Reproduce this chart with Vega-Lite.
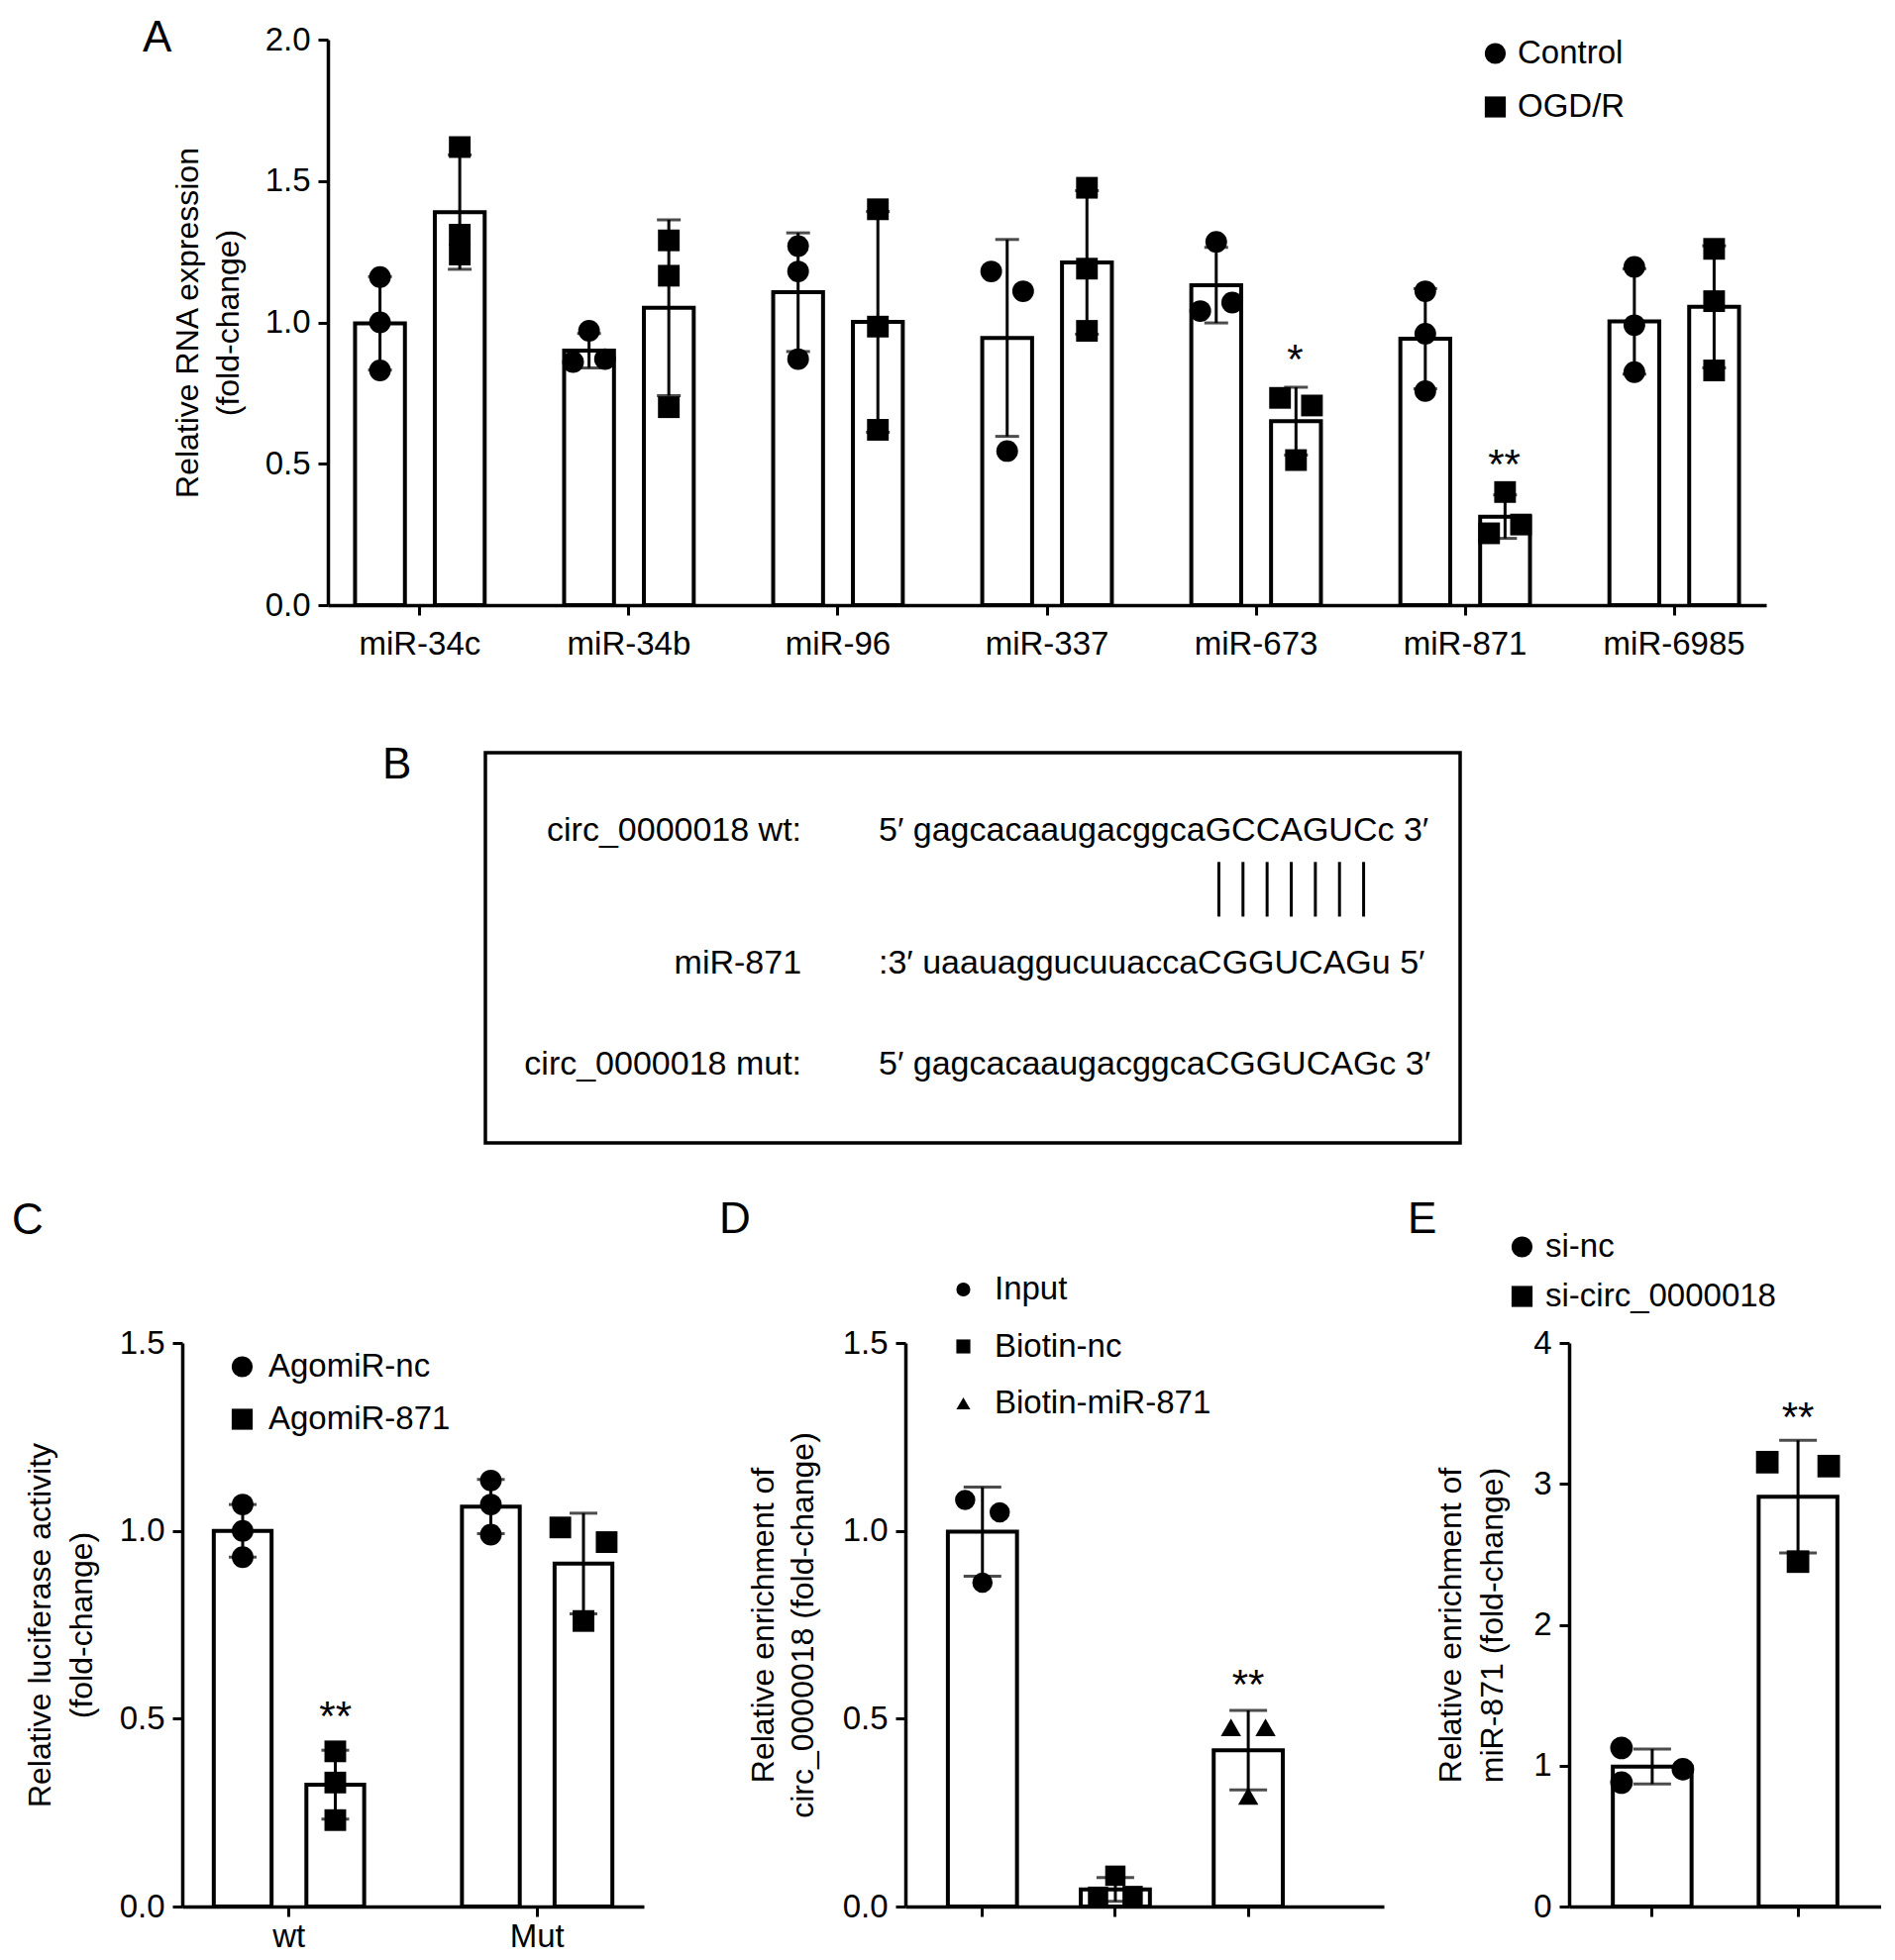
{
  "$schema": "https://vega.github.io/schema/vega-lite/v6.json",
  "padding": {"left": 0, "top": 16, "right": 0, "bottom": 0},
  "config": {
    "font": "Liberation Sans",
    "view": {"stroke": null},
    "axis": {"domainColor": "black", "domainWidth": 3.5, "tickColor": "black", "tickWidth": 3, "tickSize": 10, "labelColor": "black", "labelFontSize": 33, "titleColor": "black", "titleFontSize": 32, "titleFontWeight": "normal", "grid": false, "labelFont": "Liberation Sans", "titleFont": "Liberation Sans"},
    "legend": {"labelFontSize": 33, "labelColor": "black", "labelFont": "Liberation Sans", "padding": 0, "symbolFillColor": "black", "symbolStrokeWidth": 0, "labelLimit": 500},
    "title": {"font": "Liberation Sans", "fontSize": 44, "fontWeight": "normal", "color": "black", "anchor": "start", "frame": "group", "offset": 0, "baseline": "middle", "align": "left"},
    "text": {"font": "Liberation Sans", "color": "black"}
  },
  "datasets": {
    "a": [
      {"mir": "miR-34c", "group": "Control", "slot": "Control M", "value": 1.16},
      {"mir": "miR-34c", "group": "Control", "slot": "Control M", "value": 1.0},
      {"mir": "miR-34c", "group": "Control", "slot": "Control M", "value": 0.83},
      {"mir": "miR-34c", "group": "OGD/R", "slot": "OGD/R M", "value": 1.62},
      {"mir": "miR-34c", "group": "OGD/R", "slot": "OGD/R M", "value": 1.31},
      {"mir": "miR-34c", "group": "OGD/R", "slot": "OGD/R M", "value": 1.24},
      {"mir": "miR-34b", "group": "Control", "slot": "Control M", "value": 0.97},
      {"mir": "miR-34b", "group": "Control", "slot": "Control L", "value": 0.86},
      {"mir": "miR-34b", "group": "Control", "slot": "Control R", "value": 0.87},
      {"mir": "miR-34b", "group": "OGD/R", "slot": "OGD/R M", "value": 1.29},
      {"mir": "miR-34b", "group": "OGD/R", "slot": "OGD/R M", "value": 1.165},
      {"mir": "miR-34b", "group": "OGD/R", "slot": "OGD/R M", "value": 0.70},
      {"mir": "miR-96", "group": "Control", "slot": "Control M", "value": 1.27},
      {"mir": "miR-96", "group": "Control", "slot": "Control M", "value": 1.18},
      {"mir": "miR-96", "group": "Control", "slot": "Control M", "value": 0.87},
      {"mir": "miR-96", "group": "OGD/R", "slot": "OGD/R M", "value": 1.40},
      {"mir": "miR-96", "group": "OGD/R", "slot": "OGD/R M", "value": 0.985},
      {"mir": "miR-96", "group": "OGD/R", "slot": "OGD/R M", "value": 0.62},
      {"mir": "miR-337", "group": "Control", "slot": "Control L", "value": 1.18},
      {"mir": "miR-337", "group": "Control", "slot": "Control R", "value": 1.11},
      {"mir": "miR-337", "group": "Control", "slot": "Control M", "value": 0.545},
      {"mir": "miR-337", "group": "OGD/R", "slot": "OGD/R M", "value": 1.476},
      {"mir": "miR-337", "group": "OGD/R", "slot": "OGD/R M", "value": 1.19},
      {"mir": "miR-337", "group": "OGD/R", "slot": "OGD/R M", "value": 0.97},
      {"mir": "miR-673", "group": "Control", "slot": "Control M", "value": 1.285},
      {"mir": "miR-673", "group": "Control", "slot": "Control L", "value": 1.04},
      {"mir": "miR-673", "group": "Control", "slot": "Control R", "value": 1.07},
      {"mir": "miR-673", "group": "OGD/R", "slot": "OGD/R L", "value": 0.733},
      {"mir": "miR-673", "group": "OGD/R", "slot": "OGD/R R", "value": 0.706},
      {"mir": "miR-673", "group": "OGD/R", "slot": "OGD/R M", "value": 0.513},
      {"mir": "miR-871", "group": "Control", "slot": "Control M", "value": 1.11},
      {"mir": "miR-871", "group": "Control", "slot": "Control M", "value": 0.96},
      {"mir": "miR-871", "group": "Control", "slot": "Control M", "value": 0.757},
      {"mir": "miR-871", "group": "OGD/R", "slot": "OGD/R M", "value": 0.40},
      {"mir": "miR-871", "group": "OGD/R", "slot": "OGD/R L", "value": 0.254},
      {"mir": "miR-871", "group": "OGD/R", "slot": "OGD/R R", "value": 0.285},
      {"mir": "miR-6985", "group": "Control", "slot": "Control M", "value": 1.196},
      {"mir": "miR-6985", "group": "Control", "slot": "Control M", "value": 0.99},
      {"mir": "miR-6985", "group": "Control", "slot": "Control M", "value": 0.824},
      {"mir": "miR-6985", "group": "OGD/R", "slot": "OGD/R M", "value": 1.26},
      {"mir": "miR-6985", "group": "OGD/R", "slot": "OGD/R M", "value": 1.075},
      {"mir": "miR-6985", "group": "OGD/R", "slot": "OGD/R M", "value": 0.83}
    ],
    "astar": [
      {"mir": "miR-673", "group": "OGD/R", "label": "*", "ypos": 0.882},
      {"mir": "miR-871", "group": "OGD/R", "label": "**", "ypos": 0.513}
    ],
    "b": [
      {"name": "circ_0000018 wt:", "seq": "5′ gagcacaaugacggcaGCCAGUCc 3′", "row": 1.0},
      {"name": "miR-871", "seq": ":3′ uaauaggucuuaccaCGGUCAGu 5′", "row": 2.7},
      {"name": "circ_0000018 mut:", "seq": "5′ gagcacaaugacggcaCGGUCAGc 3′", "row": 4.0}
    ],
    "bpairs": [
      {"pair": "G-C", "nt": 17}, {"pair": "C-G", "nt": 18}, {"pair": "C-G", "nt": 19},
      {"pair": "A-U", "nt": 20}, {"pair": "G-C", "nt": 21}, {"pair": "U-A", "nt": 22}, {"pair": "C-G", "nt": 23}
    ],
    "c": [
      {"site": "wt", "group": "AgomiR-nc", "slot": "AgomiR-nc M", "value": 1.07},
      {"site": "wt", "group": "AgomiR-nc", "slot": "AgomiR-nc M", "value": 1.0},
      {"site": "wt", "group": "AgomiR-nc", "slot": "AgomiR-nc M", "value": 0.93},
      {"site": "wt", "group": "AgomiR-871", "slot": "AgomiR-871 M", "value": 0.413},
      {"site": "wt", "group": "AgomiR-871", "slot": "AgomiR-871 M", "value": 0.33},
      {"site": "wt", "group": "AgomiR-871", "slot": "AgomiR-871 M", "value": 0.23},
      {"site": "Mut", "group": "AgomiR-nc", "slot": "AgomiR-nc M", "value": 1.134},
      {"site": "Mut", "group": "AgomiR-nc", "slot": "AgomiR-nc M", "value": 1.07},
      {"site": "Mut", "group": "AgomiR-nc", "slot": "AgomiR-nc M", "value": 0.99},
      {"site": "Mut", "group": "AgomiR-871", "slot": "AgomiR-871 L", "value": 1.009},
      {"site": "Mut", "group": "AgomiR-871", "slot": "AgomiR-871 R", "value": 0.97},
      {"site": "Mut", "group": "AgomiR-871", "slot": "AgomiR-871 M", "value": 0.76}
    ],
    "cstar": [{"site": "wt", "group": "AgomiR-871", "label": "**", "ypos": 0.518}],
    "d": [
      {"grp": "Input", "lane": "L", "value": 1.082},
      {"grp": "Input", "lane": "R", "value": 1.049},
      {"grp": "Input", "lane": "M", "value": 0.862},
      {"grp": "Biotin-nc", "lane": "M", "value": 0.082},
      {"grp": "Biotin-nc", "lane": "L", "value": 0.026},
      {"grp": "Biotin-nc", "lane": "R", "value": 0.028},
      {"grp": "Biotin-miR-871", "lane": "L", "value": 0.477},
      {"grp": "Biotin-miR-871", "lane": "R", "value": 0.477},
      {"grp": "Biotin-miR-871", "lane": "M", "value": 0.294}
    ],
    "dstar": [{"grp": "Biotin-miR-871", "label": "**", "ypos": 0.60}],
    "e": [
      {"grp": "si-nc", "lane": "L", "value": 1.126},
      {"grp": "si-nc", "lane": "R", "value": 0.975},
      {"grp": "si-nc", "lane": "L", "value": 0.88},
      {"grp": "si-circ_0000018", "lane": "L", "value": 3.154},
      {"grp": "si-circ_0000018", "lane": "R", "value": 3.126},
      {"grp": "si-circ_0000018", "lane": "M", "value": 2.448}
    ],
    "estar": [{"grp": "si-circ_0000018", "label": "**", "ypos": 3.50}],
    "spacer": [{"s": 0}]
  },
  "spacing": 82,
  "resolve": {"scale": {"shape": "independent"}, "legend": {"shape": "independent"}},
  "vconcat": [
    {
      "resolve": {"scale": {"shape": "independent"}, "legend": {"shape": "independent"}},
      "hconcat": [
        {"width": 331, "height": 1, "data": {"name": "spacer"}, "mark": {"type": "point", "opacity": 0}, "encoding": {}},
        {
          "width": 1452, "height": 571,
          "title": {"text": "A", "dx": -187, "dy": 40.5},
          "resolve": {"scale": {"xOffset": "independent"}},
          "layer": [
            {
              "data": {"name": "a"},
              "mark": {"type": "bar", "fill": "white", "stroke": "black", "strokeWidth": 4},
              "encoding": {
                "x": {"field": "mir", "type": "nominal", "scale": {"domain": ["miR-34c", "miR-34b", "miR-96", "miR-337", "miR-673", "miR-871", "miR-6985"], "paddingInner": 0.38, "paddingOuter": 0.13}, "axis": {"labelAngle": 0, "labelPadding": 13}, "title": null},
                "xOffset": {"field": "group", "type": "nominal", "scale": {"domain": ["Control", "OGD/R"], "paddingInner": 0.375, "paddingOuter": 0}},
                "y": {"aggregate": "mean", "field": "value", "type": "quantitative", "scale": {"domain": [0, 2], "nice": false}, "axis": {"values": [0, 0.5, 1, 1.5, 2], "format": ".1f", "labelPadding": 8, "titleX": -142, "titleY": 285.5, "titleAngle": 270, "titleBaseline": "middle", "titleAlign": "center", "titleLineHeight": 41}, "title": ["Relative RNA expression", "(fold-change)"]}
              }
            },
            {
              "data": {"name": "a"},
              "mark": {"type": "errorbar", "extent": "stdev", "ticks": true, "size": 24, "thickness": 3, "color": "black"},
              "encoding": {
                "x": {"field": "mir", "type": "nominal", "scale": {"domain": ["miR-34c", "miR-34b", "miR-96", "miR-337", "miR-673", "miR-871", "miR-6985"], "paddingInner": 0.38, "paddingOuter": 0.13}, "axis": {"labelAngle": 0, "labelPadding": 13}, "title": null},
                "xOffset": {"field": "group", "type": "nominal", "scale": {"domain": ["Control", "OGD/R"], "paddingInner": 0.375, "paddingOuter": 0}},
                "y": {"field": "value", "type": "quantitative", "scale": {"domain": [0, 2], "nice": false}, "title": ["Relative RNA expression", "(fold-change)"]}
              }
            },
            {
              "data": {"name": "a"},
              "mark": {"type": "point", "filled": true, "color": "black", "opacity": 1, "size": 480},
              "encoding": {
                "x": {"field": "mir", "type": "nominal", "scale": {"domain": ["miR-34c", "miR-34b", "miR-96", "miR-337", "miR-673", "miR-871", "miR-6985"], "paddingInner": 0.38, "paddingOuter": 0.13}, "axis": {"labelAngle": 0, "labelPadding": 13}, "title": null},
                "xOffset": {"field": "slot", "type": "nominal", "scale": {"type": "point", "domain": ["Control L", "Control M", "Control R", "gap1", "gap2", "OGD/R L", "OGD/R M", "OGD/R R"], "padding": 0.5625}},
                "y": {"field": "value", "type": "quantitative", "scale": {"domain": [0, 2], "nice": false}, "title": ["Relative RNA expression", "(fold-change)"]},
                "shape": {"field": "group", "type": "nominal", "scale": {"domain": ["Control", "OGD/R"], "range": ["circle", "square"]}, "legend": {"title": null, "orient": "none", "legendX": 1162, "legendY": -2.5, "rowPadding": 20, "labelOffset": 6, "symbolSize": 450}}
              }
            },
            {
              "data": {"name": "astar"},
              "mark": {"type": "text", "fontSize": 42, "baseline": "middle", "align": "center", "dy": 5, "dx": -26},
              "encoding": {
                "x": {"field": "mir", "type": "nominal", "scale": {"domain": ["miR-34c", "miR-34b", "miR-96", "miR-337", "miR-673", "miR-871", "miR-6985"], "paddingInner": 0.38, "paddingOuter": 0.13}, "axis": {"labelAngle": 0, "labelPadding": 13}, "title": null},
                "xOffset": {"field": "group", "type": "nominal", "scale": {"domain": ["Control", "OGD/R"], "paddingInner": 0.375, "paddingOuter": 0}},
                "y": {"field": "ypos", "type": "quantitative", "scale": {"domain": [0, 2], "nice": false}, "title": ["Relative RNA expression", "(fold-change)"]},
                "text": {"field": "label"}
              }
            }
          ]
        }
      ],
      "spacing": 0,
      "bounds": "flush"
    },
    {
      "spacing": 54,
      "resolve": {"scale": {"shape": "independent"}, "legend": {"shape": "independent"}},
      "vconcat": [
        {
          "hconcat": [
            {"width": 490, "height": 1, "data": {"name": "spacer"}, "mark": {"type": "point", "opacity": 0}, "encoding": {}},
            {
              "width": 984, "height": 394,
              "view": {"stroke": "black", "strokeWidth": 3.5},
              "title": {"text": "B", "dx": -104, "dy": 39},
              "layer": [
                {
                  "data": {"name": "b"},
                  "mark": {"type": "text", "align": "right", "baseline": "middle", "fontSize": 34},
                  "encoding": {
                    "x": {"datum": -0.3, "type": "quantitative", "scale": {"domain": [-13.4, 27], "nice": false, "zero": false}, "axis": null},
                    "y": {"field": "row", "type": "quantitative", "scale": {"domain": [0, 5], "nice": false, "zero": false, "reverse": true}, "axis": null},
                    "text": {"field": "name"}
                  }
                },
                {
                  "data": {"name": "b"},
                  "mark": {"type": "text", "align": "left", "baseline": "middle", "fontSize": 34},
                  "encoding": {
                    "x": {"datum": 2.9, "type": "quantitative", "scale": {"domain": [-13.4, 27], "nice": false, "zero": false}, "axis": null},
                    "y": {"field": "row", "type": "quantitative", "scale": {"domain": [0, 5], "nice": false, "zero": false, "reverse": true}, "axis": null},
                    "text": {"field": "seq"}
                  }
                },
                {
                  "data": {"name": "bpairs"},
                  "mark": {"type": "rule", "strokeWidth": 3, "color": "black"},
                  "encoding": {
                    "x": {"field": "nt", "type": "quantitative", "scale": {"domain": [-13.4, 27], "nice": false, "zero": false}, "axis": null},
                    "y": {"datum": 1.4, "type": "quantitative", "scale": {"domain": [0, 5], "nice": false, "zero": false, "reverse": true}, "axis": null},
                    "y2": {"datum": 2.1}
                  }
                }
              ]
            }
          ],
          "spacing": 0,
          "bounds": "flush"
        },
        {
          "resolve": {"scale": {"shape": "independent"}, "legend": {"shape": "independent"}},
          "hconcat": [
            {"width": 184, "height": 1, "data": {"name": "spacer"}, "mark": {"type": "point", "opacity": 0}, "encoding": {}},
            {
              "width": 466, "height": 569,
              "title": {"text": "C", "dx": -172, "dy": -81.5},
              "resolve": {"scale": {"xOffset": "independent"}},
              "layer": [
                {
                  "data": {"name": "c"},
                  "mark": {"type": "bar", "fill": "white", "stroke": "black", "strokeWidth": 4},
                  "encoding": {
                    "x": {"field": "site", "type": "nominal", "scale": {"domain": ["wt", "Mut"], "paddingInner": 0.394, "paddingOuter": 0.127}, "axis": {"labelAngle": 0, "labelPadding": 4}, "title": null},
                    "xOffset": {"field": "group", "type": "nominal", "scale": {"domain": ["AgomiR-nc", "AgomiR-871"], "paddingInner": 0.376, "paddingOuter": 0}},
                    "y": {"aggregate": "mean", "field": "value", "type": "quantitative", "scale": {"domain": [0, 1.5], "nice": false}, "axis": {"values": [0, 0.5, 1, 1.5], "format": ".1f", "labelPadding": 8, "titleX": -144, "titleY": 284.5, "titleAngle": 270, "titleBaseline": "middle", "titleAlign": "center", "titleLineHeight": 42}, "title": ["Relative luciferase activity", "(fold-change)"]}
                  }
                },
                {
                  "data": {"name": "c"},
                  "mark": {"type": "errorbar", "extent": "stdev", "ticks": true, "size": 28, "thickness": 3, "color": "black"},
                  "encoding": {
                    "x": {"field": "site", "type": "nominal", "scale": {"domain": ["wt", "Mut"], "paddingInner": 0.394, "paddingOuter": 0.127}, "axis": {"labelAngle": 0, "labelPadding": 4}, "title": null},
                    "xOffset": {"field": "group", "type": "nominal", "scale": {"domain": ["AgomiR-nc", "AgomiR-871"], "paddingInner": 0.376, "paddingOuter": 0}},
                    "y": {"field": "value", "type": "quantitative", "scale": {"domain": [0, 1.5], "nice": false}, "title": ["Relative luciferase activity", "(fold-change)"]}
                  }
                },
                {
                  "data": {"name": "c"},
                  "mark": {"type": "point", "filled": true, "color": "black", "opacity": 1, "size": 480},
                  "encoding": {
                    "x": {"field": "site", "type": "nominal", "scale": {"domain": ["wt", "Mut"], "paddingInner": 0.394, "paddingOuter": 0.127}, "axis": {"labelAngle": 0, "labelPadding": 4}, "title": null},
                    "xOffset": {"field": "slot", "type": "nominal", "scale": {"type": "point", "domain": ["AgomiR-nc L", "AgomiR-nc M", "AgomiR-nc R", "gap", "AgomiR-871 L", "AgomiR-871 M", "AgomiR-871 R"], "padding": 0.247}},
                    "y": {"field": "value", "type": "quantitative", "scale": {"domain": [0, 1.5], "nice": false}, "title": ["Relative luciferase activity", "(fold-change)"]},
                    "shape": {"field": "group", "type": "nominal", "scale": {"domain": ["AgomiR-nc", "AgomiR-871"], "range": ["circle", "square"]}, "legend": {"title": null, "orient": "none", "legendX": 44, "legendY": 7.5, "rowPadding": 19, "labelOffset": 10, "symbolSize": 450}}
                  }
                },
                {
                  "data": {"name": "cstar"},
                  "mark": {"type": "text", "fontSize": 42, "baseline": "middle", "align": "center", "dy": 5, "dx": -29},
                  "encoding": {
                    "x": {"field": "site", "type": "nominal", "scale": {"domain": ["wt", "Mut"], "paddingInner": 0.394, "paddingOuter": 0.127}, "axis": {"labelAngle": 0, "labelPadding": 4}, "title": null},
                    "xOffset": {"field": "group", "type": "nominal", "scale": {"domain": ["AgomiR-nc", "AgomiR-871"], "paddingInner": 0.376, "paddingOuter": 0}},
                    "y": {"field": "ypos", "type": "quantitative", "scale": {"domain": [0, 1.5], "nice": false}, "title": ["Relative luciferase activity", "(fold-change)"]},
                    "text": {"field": "label"}
                  }
                }
              ]
            },
            {"width": 264, "height": 1, "data": {"name": "spacer"}, "mark": {"type": "point", "opacity": 0}, "encoding": {}},
            {
              "width": 483, "height": 569,
              "title": {"text": "D", "dx": -188, "dy": -27.5},
              "resolve": {"scale": {"xOffset": "independent"}},
              "layer": [
                {
                  "data": {"name": "d"},
                  "mark": {"type": "bar", "fill": "white", "stroke": "black", "strokeWidth": 4},
                  "encoding": {
                    "x": {"field": "grp", "type": "nominal", "scale": {"domain": ["Input", "Biotin-nc", "Biotin-miR-871"], "paddingInner": 0.48, "paddingOuter": 0.54, "align": 0.296}, "axis": {"labels": false}, "title": null},
                    "y": {"aggregate": "mean", "field": "value", "type": "quantitative", "scale": {"domain": [0, 1.5], "nice": false}, "axis": {"values": [0, 0.5, 1, 1.5], "format": ".1f", "labelPadding": 8, "titleX": -144, "titleY": 284.5, "titleAngle": 270, "titleBaseline": "middle", "titleAlign": "center", "titleLineHeight": 40}, "title": ["Relative enrichment of", "circ_0000018 (fold-change)"]}
                  }
                },
                {
                  "data": {"name": "d"},
                  "mark": {"type": "errorbar", "extent": "stdev", "ticks": true, "size": 38, "thickness": 3, "color": "black"},
                  "encoding": {
                    "x": {"field": "grp", "type": "nominal", "scale": {"domain": ["Input", "Biotin-nc", "Biotin-miR-871"], "paddingInner": 0.48, "paddingOuter": 0.54, "align": 0.296}, "axis": {"labels": false}, "title": null},
                    "y": {"field": "value", "type": "quantitative", "scale": {"domain": [0, 1.5], "nice": false}, "title": ["Relative enrichment of", "circ_0000018 (fold-change)"]}
                  }
                },
                {
                  "data": {"name": "d"},
                  "mark": {"type": "point", "filled": true, "color": "black", "opacity": 1, "size": 420},
                  "encoding": {
                    "x": {"field": "grp", "type": "nominal", "scale": {"domain": ["Input", "Biotin-nc", "Biotin-miR-871"], "paddingInner": 0.48, "paddingOuter": 0.54, "align": 0.296}, "axis": {"labels": false}, "title": null},
                    "xOffset": {"field": "lane", "type": "nominal", "scale": {"type": "point", "domain": ["L", "M", "R"], "padding": 1.053}},
                    "y": {"field": "value", "type": "quantitative", "scale": {"domain": [0, 1.5], "nice": false}, "title": ["Relative enrichment of", "circ_0000018 (fold-change)"]},
                    "shape": {"field": "grp", "type": "nominal", "scale": {"domain": ["Input", "Biotin-nc", "Biotin-miR-871"], "range": ["circle", "square", "triangle-up"]}, "legend": {"title": null, "orient": "none", "legendX": 42, "legendY": -70.5, "rowPadding": 23.5, "labelOffset": 15, "symbolSize": 200}}
                  }
                },
                {
                  "data": {"name": "dstar"},
                  "mark": {"type": "text", "fontSize": 42, "baseline": "middle", "align": "center", "dy": 5},
                  "encoding": {
                    "x": {"field": "grp", "type": "nominal", "scale": {"domain": ["Input", "Biotin-nc", "Biotin-miR-871"], "paddingInner": 0.48, "paddingOuter": 0.54, "align": 0.296}, "axis": {"labels": false}, "title": null},
                    "y": {"field": "ypos", "type": "quantitative", "scale": {"domain": [0, 1.5], "nice": false}, "title": ["Relative enrichment of", "circ_0000018 (fold-change)"]},
                    "text": {"field": "label"}
                  }
                }
              ]
            },
            {"width": 187, "height": 1, "data": {"name": "spacer"}, "mark": {"type": "point", "opacity": 0}, "encoding": {}},
            {
              "width": 315, "height": 569,
              "title": {"text": "E", "dx": -163, "dy": 15.5},
              "resolve": {"scale": {"xOffset": "independent"}},
              "layer": [
                {
                  "data": {"name": "e"},
                  "mark": {"type": "bar", "fill": "white", "stroke": "black", "strokeWidth": 4},
                  "encoding": {
                    "x": {"field": "grp", "type": "nominal", "scale": {"domain": ["si-nc", "si-circ_0000018"], "paddingInner": 0.46, "paddingOuter": 0.3}, "axis": {"labels": false}, "title": null},
                    "y": {"aggregate": "mean", "field": "value", "type": "quantitative", "scale": {"domain": [0, 4], "nice": false}, "axis": {"values": [0, 1, 2, 3, 4], "format": "d", "labelPadding": 8, "titleX": -120, "titleY": 284.5, "titleAngle": 270, "titleBaseline": "middle", "titleAlign": "center", "titleLineHeight": 42}, "title": ["Relative enrichment of", "miR-871 (fold-change)"]}
                  }
                },
                {
                  "data": {"name": "e"},
                  "mark": {"type": "errorbar", "extent": "stdev", "ticks": true, "size": 38, "thickness": 3, "color": "black"},
                  "encoding": {
                    "x": {"field": "grp", "type": "nominal", "scale": {"domain": ["si-nc", "si-circ_0000018"], "paddingInner": 0.46, "paddingOuter": 0.3}, "axis": {"labels": false}, "title": null},
                    "y": {"field": "value", "type": "quantitative", "scale": {"domain": [0, 4], "nice": false}, "title": ["Relative enrichment of", "miR-871 (fold-change)"]}
                  }
                },
                {
                  "data": {"name": "e"},
                  "mark": {"type": "point", "filled": true, "color": "black", "opacity": 1, "size": 520},
                  "encoding": {
                    "x": {"field": "grp", "type": "nominal", "scale": {"domain": ["si-nc", "si-circ_0000018"], "paddingInner": 0.46, "paddingOuter": 0.3}, "axis": {"labels": false}, "title": null},
                    "xOffset": {"field": "lane", "type": "nominal", "scale": {"type": "point", "domain": ["L", "M", "R"], "padding": 0.282}},
                    "y": {"field": "value", "type": "quantitative", "scale": {"domain": [0, 4], "nice": false}, "title": ["Relative enrichment of", "miR-871 (fold-change)"]},
                    "shape": {"field": "grp", "type": "nominal", "scale": {"domain": ["si-nc", "si-circ_0000018"], "range": ["circle", "square"]}, "legend": {"title": null, "orient": "none", "legendX": -64, "legendY": -113.5, "rowPadding": 16, "labelOffset": 7, "symbolSize": 450}}
                  }
                },
                {
                  "data": {"name": "estar"},
                  "mark": {"type": "text", "fontSize": 42, "baseline": "middle", "align": "center", "dy": 5},
                  "encoding": {
                    "x": {"field": "grp", "type": "nominal", "scale": {"domain": ["si-nc", "si-circ_0000018"], "paddingInner": 0.46, "paddingOuter": 0.3}, "axis": {"labels": false}, "title": null},
                    "y": {"field": "ypos", "type": "quantitative", "scale": {"domain": [0, 4], "nice": false}, "title": ["Relative enrichment of", "miR-871 (fold-change)"]},
                    "text": {"field": "label"}
                  }
                }
              ]
            }
          ],
          "spacing": 0,
          "bounds": "flush"
        }
      ]
    }
  ]
}
